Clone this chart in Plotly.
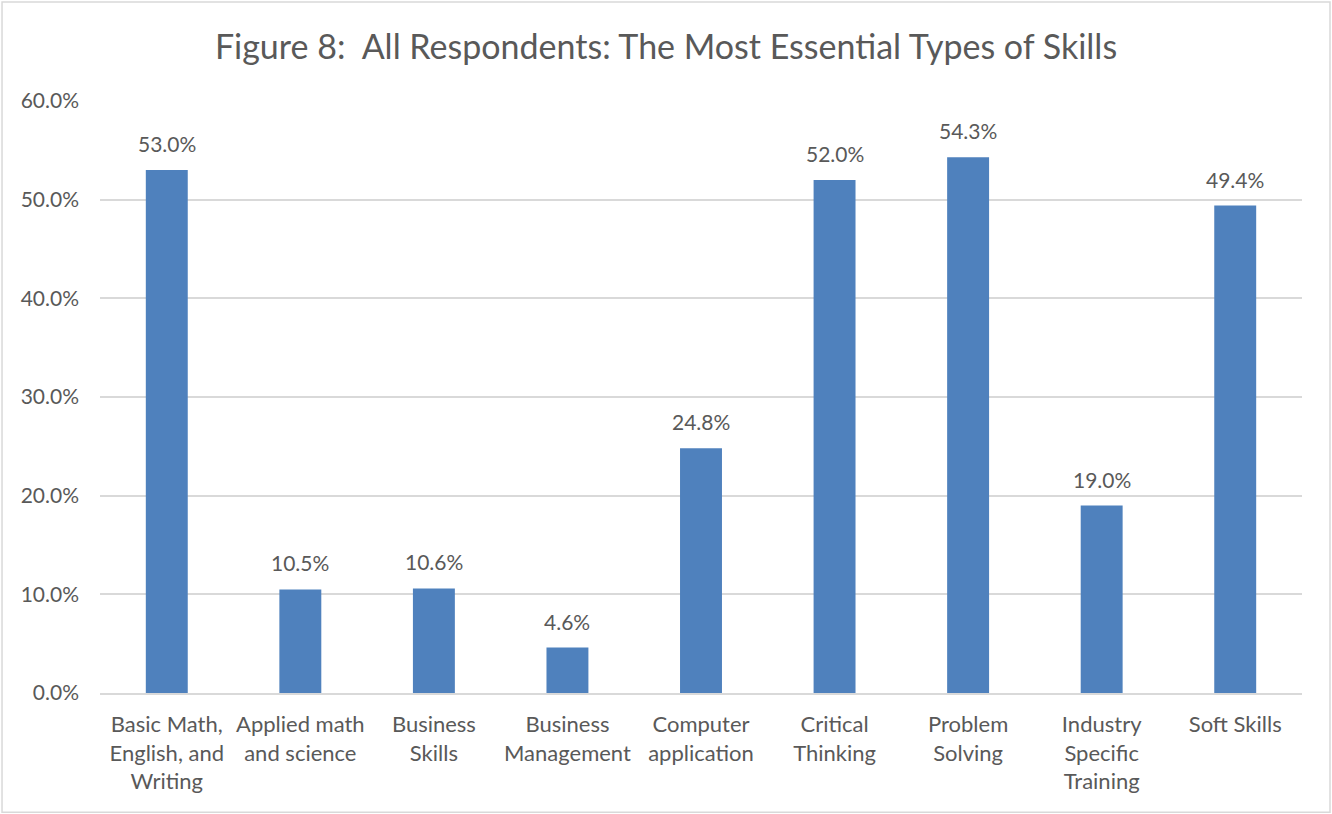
import plotly.graph_objects as go

# Survey results: share of respondents naming each skill type as most essential
categories = [
    "Basic Math,<br>English, and<br>Writing",
    "Applied math<br>and science",
    "Business<br>Skills",
    "Business<br>Management",
    "Computer<br>application",
    "Critical<br>Thinking",
    "Problem<br>Solving",
    "Industry<br>Specific<br>Training",
    "Soft Skills",
]
values = [53.0, 10.5, 10.6, 4.6, 24.8, 52.0, 54.3, 19.0, 49.4]
y_ticks = [0, 10, 20, 30, 40, 50, 60]
y_tick_labels = [f"{v:.1f}%" for v in y_ticks]

FONT = "Lato, 'Open Sans', sans-serif"
TEXT = "#595959"
GRID = "#D9D9D9"
BAR = "#4F81BD"

fig = go.Figure(
    go.Bar(
        x=categories,
        y=values,
        marker=dict(color=BAR, line=dict(width=0)),
        hoverinfo="skip",
    )
)

# value labels above each bar
for c, v in zip(categories, values):
    fig.add_annotation(
        x=c, y=v, text=f"{v:.1f}%", showarrow=False,
        yanchor="bottom", yshift=12,
        font=dict(family=FONT, size=21, color=TEXT),
    )

# light outer frame around the chart area
fig.add_shape(
    type="rect", xref="paper", yref="paper",
    x0=-0.0815, x1=1.0233, y0=-0.2015, y1=1.1672,
    line=dict(color=GRID, width=1.5), fillcolor="rgba(0,0,0,0)", layer="below",
)

fig.update_layout(
    width=1332, height=814,
    margin=dict(l=100, r=30, t=101, b=121),
    paper_bgcolor="white", plot_bgcolor="white",
    bargap=0.686,
    showlegend=False,
    title=dict(
        text="Figure 8:  All Respondents: The Most Essential Types of Skills",
        x=0.5, xanchor="center", y=0.942, yanchor="middle",
        font=dict(family=FONT, size=34, color=TEXT),
    ),
    font=dict(family=FONT, size=21, color=TEXT),
    xaxis=dict(
        showgrid=False, showline=True, linecolor=GRID, linewidth=1.5,
        ticks="", ticklabelstandoff=11,
        tickfont=dict(family=FONT, size=22, color=TEXT),
    ),
    yaxis=dict(
        range=[0, 60], tickvals=y_ticks, ticktext=y_tick_labels,
        showgrid=True, gridcolor=GRID, gridwidth=1.5,
        zeroline=False, showline=False, ticks="", ticklabelstandoff=20,
        tickfont=dict(family=FONT, size=21, color=TEXT),
    ),
)

fig.write_html("out.html")
